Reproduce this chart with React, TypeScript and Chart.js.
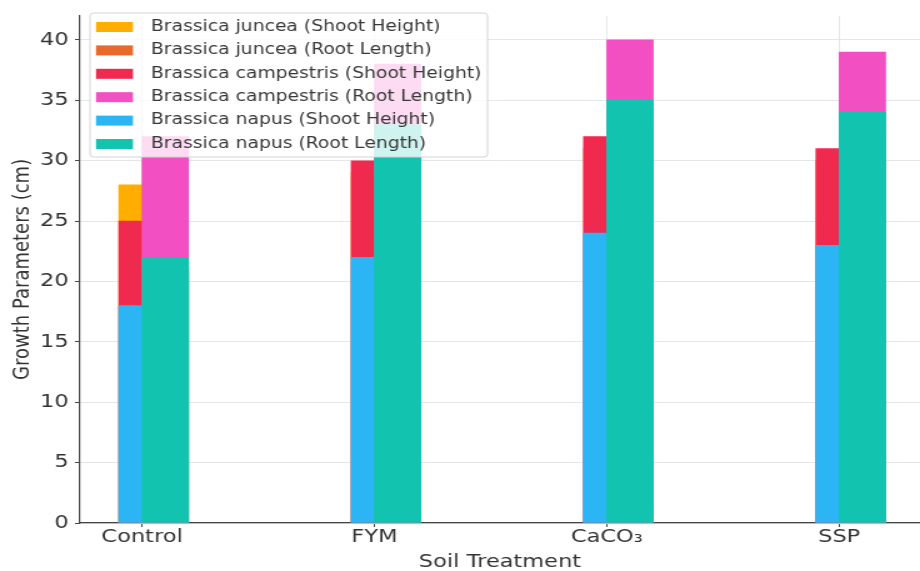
import React, { useEffect, useRef } from 'react';
import { Chart, registerables } from 'chart.js';

Chart.register(...registerables);

// Soil treatments on the x axis
const categories = ['Control', 'FYM', 'CaCO₃', 'SSP'];

// Growth parameters (cm) per species
const junceaShoot = [28, 29, 31, 30];
const junceaRoot = [21, 32, 33, 32];
const campestrisShoot = [25, 30, 32, 31];
const campestrisRoot = [32, 38, 40, 39];
const napusShoot = [18, 22, 24, 23];
const napusRoot = [22, 33, 35, 34];

const yTickValues = [0, 5, 10, 15, 20, 25, 30, 35, 40];

// Layout: the canvas is drawn narrower and widened by CSS
const VIEW_W = 920;
const VIEW_H = 571;
const STRETCH = 1.25;
const CANVAS_W = Math.round(VIEW_W / STRETCH);
const PLOT_LEFT = 64;
const PLOT_TOP = 5;
const PLOT_BOTTOM = 523;
const X_MIN = -0.267;
const X_MAX = 3.348;
const Y_MAX = 42;
const UNIT_PX = (CANVAS_W - PLOT_LEFT) / (X_MAX - X_MIN);
const SHOOT_W = 0.1;
const ROOT_W = 0.2;

const FONT = 'DejaVu Sans';
const TEXT = '#333333';
const GRID = '#e6e6e6';
const AXIS = '#444444';

const toPoints = (values: number[], offset: number) =>
  values.map((v, i) => ({ x: i + offset, y: v }));

const shootBar = (label: string, values: number[], color: string) => ({
  label,
  data: toPoints(values, -SHOOT_W / 2),
  backgroundColor: color,
  borderWidth: 0,
  grouped: false,
  barThickness: SHOOT_W * UNIT_PX,
});

const rootBar = (label: string, values: number[], color: string) => ({
  label,
  data: toPoints(values, ROOT_W / 2),
  backgroundColor: color,
  borderWidth: 0,
  grouped: false,
  barThickness: ROOT_W * UNIT_PX,
});

// Legend box in the upper-left corner of the plot, listed from the first species down
const insetLegend = {
  id: 'insetLegend',
  afterDatasetsDraw(chart: any) {
    const ctx = chart.ctx as CanvasRenderingContext2D;
    const items = [...chart.data.datasets].reverse();
    const x0 = 72;
    const y0 = 13;
    const w = 318;
    const h = 144;
    ctx.save();
    ctx.beginPath();
    (ctx as any).roundRect(x0, y0, w, h, 3);
    ctx.fillStyle = 'rgba(255,255,255,0.8)';
    ctx.fill();
    ctx.strokeStyle = '#d4d4d4';
    ctx.lineWidth = 1;
    ctx.stroke();
    ctx.font = `15px "${FONT}"`;
    ctx.textBaseline = 'middle';
    ctx.textAlign = 'left';
    items.forEach((ds: any, k: number) => {
      const cy = y0 + 14 + k * 23.4;
      ctx.fillStyle = ds.backgroundColor;
      ctx.fillRect(x0 + 4.8, cy - 5, 29.6, 10);
      ctx.fillStyle = '#383838';
      ctx.fillText(ds.label, x0 + 48.8, cy);
    });
    ctx.restore();
  },
};

export default function App() {
  const canvasRef = useRef<HTMLCanvasElement | null>(null);

  useEffect(() => {
    const canvas = canvasRef.current;
    if (!canvas) return;

    // Index 0 is drawn on top, so napus comes first
    const datasets = [
      rootBar('Brassica napus (Root Length)', napusRoot, '#12c4b0'),
      shootBar('Brassica napus (Shoot Height)', napusShoot, '#2bb5f5'),
      rootBar('Brassica campestris (Root Length)', campestrisRoot, '#f250c2'),
      shootBar('Brassica campestris (Shoot Height)', campestrisShoot, '#f0294f'),
      rootBar('Brassica juncea (Root Length)', junceaRoot, '#e8692a'),
      shootBar('Brassica juncea (Shoot Height)', junceaShoot, '#ffae00'),
    ];

    const tickFont = { family: FONT, size: 18 };
    const titleFont = { family: FONT, size: 18, lineHeight: 1 };

    const chart = new Chart(canvas, {
      type: 'bar',
      data: { datasets: datasets as any },
      options: {
        animation: false,
        responsive: false,
        devicePixelRatio: 1,
        layout: { padding: { top: PLOT_TOP, left: 0, right: 0, bottom: 0 } },
        plugins: {
          legend: { display: false },
          tooltip: { enabled: false },
          title: { display: false },
        },
        scales: {
          x: {
            type: 'linear',
            min: X_MIN,
            max: X_MAX,
            offset: false,
            afterBuildTicks: (s: any) => {
              s.ticks = categories.map((_, i) => ({ value: i }));
            },
            ticks: {
              callback: (v: any) => categories[Math.round(Number(v))] ?? '',
              font: tickFont,
              color: TEXT,
              padding: 0,
              maxRotation: 0,
              autoSkip: false,
            },
            grid: { color: GRID, tickColor: AXIS, tickLength: 4, offset: false },
            border: { color: AXIS, width: 1.2 },
            title: {
              display: true,
              text: 'Soil Treatment',
              font: titleFont,
              color: TEXT,
              padding: { top: 0, bottom: 0 },
            },
            afterFit: (s: any) => {
              s.height = VIEW_H - PLOT_BOTTOM;
            },
          },
          y: {
            min: 0,
            max: Y_MAX,
            afterBuildTicks: (s: any) => {
              s.ticks = yTickValues.map((v) => ({ value: v }));
            },
            ticks: { font: tickFont, color: TEXT, padding: 5 },
            grid: { color: GRID, tickColor: AXIS, tickLength: 4 },
            border: { color: AXIS, width: 1.2 },
            title: {
              display: true,
              text: 'Growth Parameters (cm)',
              font: tickFont,
              color: TEXT,
              padding: { top: 8, bottom: 0 },
            },
            afterFit: (s: any) => {
              s.width = PLOT_LEFT;
            },
          },
        },
      } as any,
      plugins: [insetLegend],
    });

    return () => chart.destroy();
  }, []);

  return (
    <div
      style={{
        position: 'fixed',
        left: 0,
        top: 0,
        width: VIEW_W,
        height: VIEW_H,
        overflow: 'hidden',
        background: '#ffffff',
      }}
    >
      <canvas
        ref={canvasRef}
        width={CANVAS_W}
        height={VIEW_H}
        style={{ width: `${VIEW_W}px`, height: `${VIEW_H}px`, display: 'block' }}
      />
    </div>
  );
}
